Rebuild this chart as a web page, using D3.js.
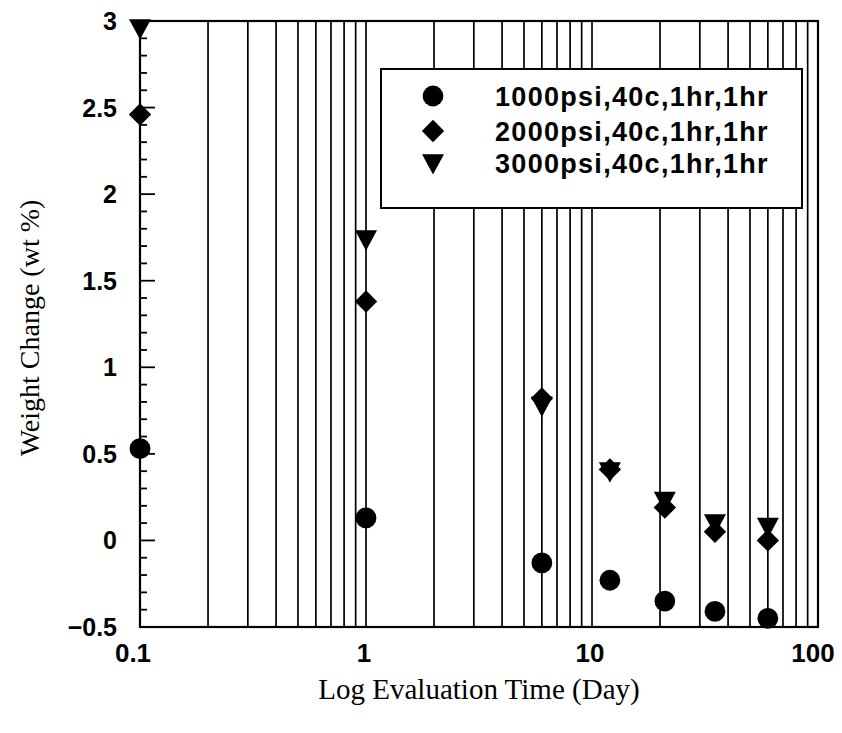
<!DOCTYPE html>
<html><head><meta charset="utf-8">
<script src="https://cdn.jsdelivr.net/npm/d3@7/dist/d3.min.js"></script>
<style>body{margin:0;background:#fff}</style>
</head><body>
<svg id="c" width="842" height="733"></svg>
<script>
const days = [0.1, 1, 6, 12, 21, 35, 60];
const series1000 = [0.53, 0.13, -0.13, -0.23, -0.35, -0.41, -0.45];
const series2000 = [2.46, 1.38, 0.82, 0.41, 0.19, 0.05, 0.00];
const series3000 = [2.96, 1.74, 0.78, 0.40, 0.23, 0.10, 0.08];
const seriesNames = ["1000psi,40c,1hr,1hr", "2000psi,40c,1hr,1hr", "3000psi,40c,1hr,1hr"];
const xTickLabels = ["0.1", "1", "10", "100"];
const yTickLabels = ["\u22120.5", "0", "0.5", "1", "1.5", "2", "2.5", "3"];

const svg = d3.select("#c");
const L = 140, R = 818, T = 21, B = 627;
const x = d3.scaleLog().domain([0.1, 100]).range([L, R]);
const y = d3.scaleLinear().domain([-0.5, 3]).range([B, T]);

// vertical grid lines at every log minor value
const gridVals = [];
for (let d = 0.1; d < 100; d *= 10) for (let k = 2; k <= 9; k++) gridVals.push(+(d * k).toPrecision(3));
[1, 10].forEach(v => gridVals.push(v));
svg.append("g").selectAll("line").data(gridVals).join("line")
  .attr("x1", d => x(d)).attr("x2", d => x(d)).attr("y1", T).attr("y2", B)
  .attr("stroke", "#000").attr("stroke-width", 1.7);

// frame
svg.append("rect").attr("x", L).attr("y", T).attr("width", R - L).attr("height", B - T)
  .attr("fill", "none").attr("stroke", "#000").attr("stroke-width", 2.2);

// y ticks (inward)
const minor = d3.range(-5, 31).map(i => i / 10);
svg.append("g").selectAll("line").data(minor).join("line")
  .attr("x1", L).attr("x2", d => L + (Math.abs(Math.round(d * 10)) % 5 === 0 ? 15 : 7))
  .attr("y1", d => y(d)).attr("y2", d => y(d))
  .attr("stroke", "#000").attr("stroke-width", 1.8);

const yVals = [-0.5, 0, 0.5, 1, 1.5, 2, 2.5, 3];
svg.append("g").selectAll("text").data(yVals).join("text")
  .attr("x", 117).attr("y", d => y(d)).attr("dy", "0.36em")
  .attr("text-anchor", "end").attr("font-family", "Liberation Sans, Arial, sans-serif")
  .attr("font-weight", "bold").attr("font-size", 25)
  .text((d, i) => yTickLabels[i]);

const xVals = [0.1, 1, 10, 100];
svg.append("g").selectAll("text").data(xVals).join("text")
  .attr("x", (d, i) => x(d) + [-7, -2, -2, -5][i]).attr("y", 662)
  .attr("text-anchor", "middle").attr("font-family", "Liberation Sans, Arial, sans-serif")
  .attr("font-weight", "bold").attr("font-size", 26)
  .text((d, i) => xTickLabels[i]);

// axis titles
svg.append("text").attr("x", (L + R) / 2).attr("y", 699).attr("text-anchor", "middle")
  .attr("font-family", "Liberation Serif, Times New Roman, serif").attr("font-size", 29)
  .text("Log Evaluation Time (Day)");
svg.append("text").attr("transform", `translate(39,${(T + B) / 2 + 4}) rotate(-90)`)
  .attr("text-anchor", "middle")
  .attr("font-family", "Liberation Serif, Times New Roman, serif").attr("font-size", 28)
  .text("Weight Change (wt %)");

// markers
const symCircle = d3.symbol().type(d3.symbolCircle).size(340);
const symDiamond = d3.symbol().type(d3.symbolSquare).size(250);
const triPath = s => `M${-s},${-s * 0.8}L${s},${-s * 0.8}L0,${s * 1.05}Z`;

const mk = {
  circle: g => g.append("path").attr("d", symCircle()),
  diamond: g => g.append("path").attr("d", symDiamond()).attr("transform", "rotate(45)"),
  tri: g => g.append("path").attr("d", triPath(11))
};

function plot(vals, kind) {
  const g = svg.append("g");
  days.forEach((d, i) => {
    const p = g.append("g").attr("transform", `translate(${x(d)},${y(vals[i])})`);
    mk[kind](p).attr("fill", "#000");
  });
}
plot(series1000, "circle");
plot(series2000, "diamond");
plot(series3000, "tri");

// legend
const lg = svg.append("g");
lg.append("rect").attr("x", 381).attr("y", 69).attr("width", 421).attr("height", 139)
  .attr("fill", "#fff").attr("stroke", "#000").attr("stroke-width", 2);
const kinds = ["circle", "diamond", "tri"];
const rowsY = [96, 131, 163];
kinds.forEach((k, i) => {
  const p = lg.append("g").attr("transform", `translate(433,${rowsY[i]})`);
  mk[k](p).attr("fill", "#000");
  lg.append("text").attr("x", 495).attr("y", rowsY[i] + 10)
    .attr("font-family", "Liberation Sans, Arial, sans-serif").attr("font-weight", "bold")
    .attr("font-size", 27).attr("letter-spacing", 1.3).text(seriesNames[i]);
});
</script>
</body></html>
